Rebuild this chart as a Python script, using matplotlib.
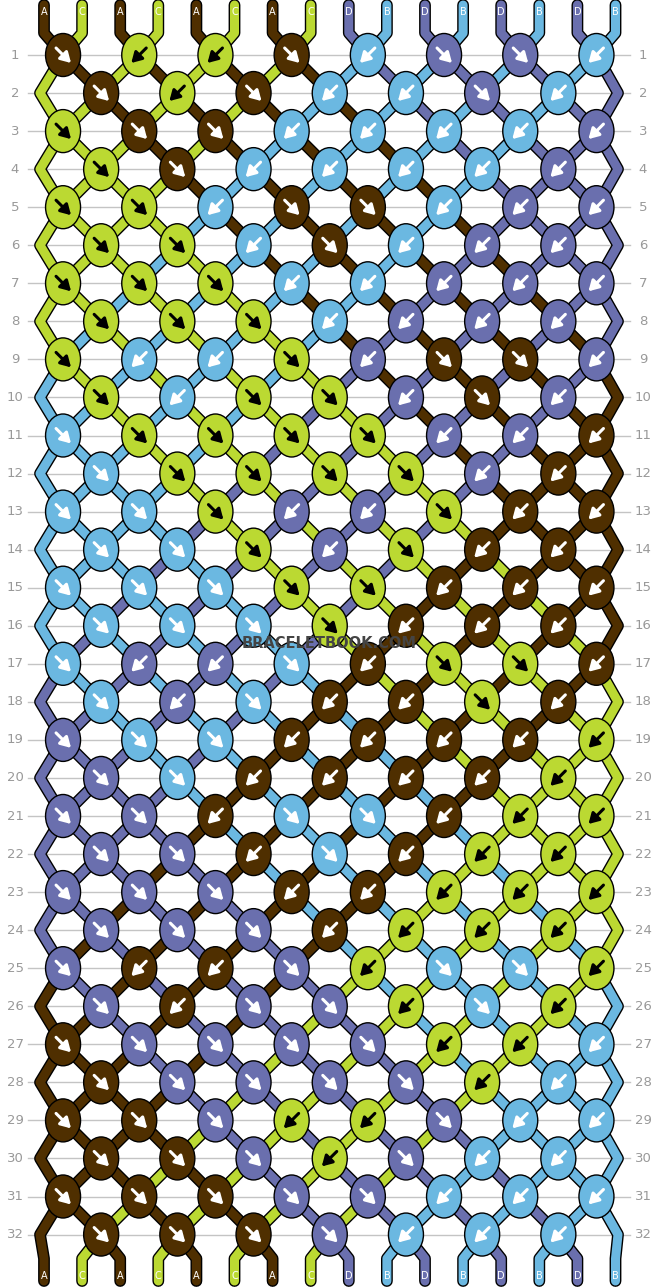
import matplotlib
matplotlib.use("Agg")
import matplotlib.pyplot as plt
from matplotlib.patches import Ellipse

start_strings = list("ACACACACDBDBDBDB")
palette = {"A": "#4f2f00", "C": "#bbd932", "D": "#6a6fae", "B": "#6bb8e1"}
arrow_col = {"A": "white", "C": "black", "D": "white", "B": "white"}
rows = [
    "FBBFBFFB", "FBFBBFB", "FFFBBBBB", "FFBBBBB", "FFBFFBBB", "FFBFBBB", "FFFBBBBB", "FFFBBBB",
    "FBBFBFFB", "FBFFBFB", "FFFFFBBB", "FFFFFBB", "FFFBBFBB", "FFFBFBB", "FFFFFBBB", "FFFFBBB",
    "FBBFBFFB", "FBFBBFB", "FFFBBBBB", "FFBBBBB", "FFBFFBBB", "FFBFBBB", "FFFBBBBB", "FFFBBBB",
    "FBBFBFFB", "FBFFBFB", "FFFFFBBB", "FFFFFBB", "FFFBBFBB", "FFFBFBB", "FFFFFBBB", "FFFFBBB",
]

W, H = 658, 1288
fig = plt.figure(figsize=(W / 100, H / 100), dpi=100)
ax = fig.add_axes([0, 0, 1, 1])
ax.set_xlim(0, W); ax.set_ylim(H, 0); ax.axis("off")

x0, dx = 44, 38.1
y0, dy = 55, 38.05
sx = lambda i: x0 + dx * i
ry = lambda r: y0 + dy * r
n = len(start_strings)

ids = list(range(n))
paths = {i: [(sx(i), 5), (sx(i), 33)] for i in range(n)}
knots = []
for r, row in enumerate(rows):
    off = 0 if r % 2 == 0 else 1
    y = ry(r)
    used = set()
    for k, t in enumerate(row):
        a, b = off + 2 * k, off + 2 * k + 1
        xc = (sx(a) + sx(b)) / 2
        la, lb = ids[a], ids[b]
        col = start_strings[la] if t == "F" else start_strings[lb]
        knots.append((xc, y, col, t))
        paths[la].append((xc, y)); paths[lb].append((xc, y))
        ids[a], ids[b] = lb, la
        used.update([a, b])
    for p in range(n):
        if p not in used:
            ex = 40 if p == 0 else 618
            paths[ids[p]].append((ex, y))
for p in range(n):
    paths[ids[p]] += [(sx(p), ry(31) + 24), (sx(p), 1281)]

for r in range(len(rows)):
    y = ry(r)
    ax.plot([28, 630], [y, y], color="#c4c4c4", lw=1, zorder=0)
    ax.text(15, y, str(r + 1), ha="center", va="center", color="#999999", fontsize=9.5)
    ax.text(643, y, str(r + 1), ha="center", va="center", color="#999999", fontsize=9.5)

for i, pts in paths.items():
    xs, ys = zip(*pts)
    ax.plot(xs, ys, color="black", lw=8.5, solid_capstyle="round", solid_joinstyle="round", zorder=1)
    ax.plot(xs, ys, color=palette[start_strings[i]], lw=6.5, solid_capstyle="round", solid_joinstyle="round", zorder=2)

for i in range(n):
    for yy in (12, 1276):
        ax.text(sx(i), yy, start_strings[i], ha="center", va="center", color="white", fontsize=7, zorder=3)

for xc, y, col, t in knots:
    ax.add_patch(Ellipse((xc, y), 35, 43, facecolor=palette[col], edgecolor="black", lw=1, zorder=4))
    if t == "F":
        s, e = (xc - 7, y - 7), (xc + 8, y + 8)
    else:
        s, e = (xc + 7, y - 7), (xc - 8, y + 8)
    ax.annotate("", xy=e, xytext=s, zorder=5,
                arrowprops=dict(arrowstyle="-|>,head_length=0.6,head_width=0.35", color=arrow_col[col],
                                lw=2.2, shrinkA=0, shrinkB=0))

ax.text(329, 643, "BRACELETBOOK.COM", ha="center", va="center", color="#444444",
        fontsize=10.5, fontweight="bold", zorder=6)
fig.savefig("out.png", dpi=100)
